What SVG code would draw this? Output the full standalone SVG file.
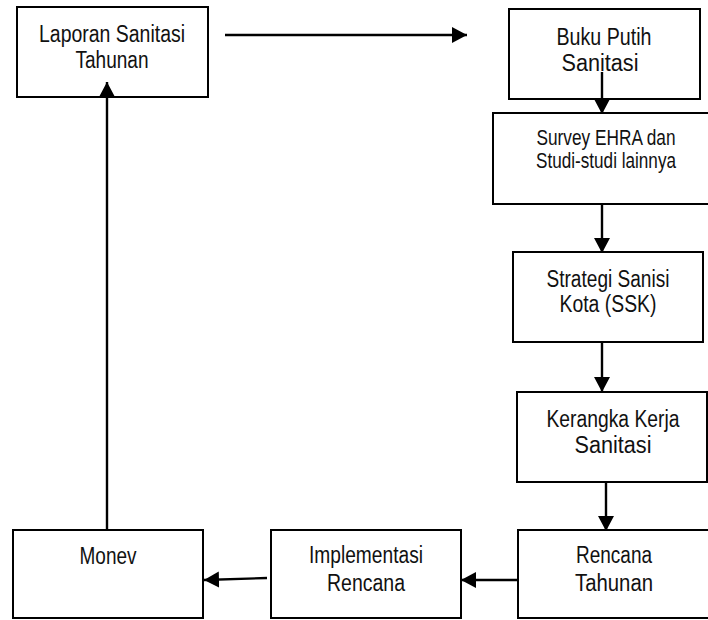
<svg xmlns="http://www.w3.org/2000/svg" width="708" height="620" viewBox="0 0 708 620">
  <style>
    .box { fill: #ffffff; stroke: #000000; stroke-width: 2; }
    .lbl { font-family: "Liberation Sans", Arial, sans-serif; font-size: 23px; fill: #111111; text-anchor: middle; }
    .sm { font-size: 22px; }
    .edge { stroke: #000000; stroke-width: 2.4; fill: none; marker-end: url(#head); }
  </style>
  <defs>
    <marker id="head" markerUnits="userSpaceOnUse" markerWidth="17" markerHeight="17" refX="15" refY="8" orient="auto">
      <path d="M0,0 L15,8 L0,16 z" fill="#000000"/>
    </marker>
  </defs>
  <rect width="708" height="620" fill="#ffffff"/>

  <!-- labels use a condensed look: widths fixed via textLength -->
  <g id="laporan">
    <rect class="box" x="17" y="7" width="191" height="90"/>
    <text class="lbl" x="112" y="42" textLength="146" lengthAdjust="spacingAndGlyphs">Laporan Sanitasi</text>
    <text class="lbl" x="112" y="68" textLength="73" lengthAdjust="spacingAndGlyphs">Tahunan</text>
  </g>
  <g id="buku-putih">
    <rect class="box" x="509" y="9" width="191" height="90"/>
    <text class="lbl" x="604" y="45" textLength="95" lengthAdjust="spacingAndGlyphs">Buku Putih</text>
    <text class="lbl" x="600" y="71" textLength="77" lengthAdjust="spacingAndGlyphs">Sanitasi</text>
  </g>
  <g id="survey">
    <rect class="box" x="493" y="113" width="220" height="91"/>
    <text class="lbl sm" x="606" y="145" textLength="139" lengthAdjust="spacingAndGlyphs">Survey EHRA dan</text>
    <text class="lbl sm" x="606" y="168" textLength="140" lengthAdjust="spacingAndGlyphs">Studi-studi lainnya</text>
  </g>
  <g id="ssk">
    <rect class="box" x="513" y="252" width="190" height="90"/>
    <text class="lbl" x="608" y="287" textLength="123" lengthAdjust="spacingAndGlyphs">Strategi Sanisi</text>
    <text class="lbl" x="608" y="312" textLength="97" lengthAdjust="spacingAndGlyphs">Kota (SSK)</text>
  </g>
  <g id="kerangka">
    <rect class="box" x="517" y="392" width="190" height="90"/>
    <text class="lbl" x="613" y="427" textLength="133" lengthAdjust="spacingAndGlyphs">Kerangka Kerja</text>
    <text class="lbl" x="613" y="453" textLength="77" lengthAdjust="spacingAndGlyphs">Sanitasi</text>
  </g>
  <g id="rencana-tahunan">
    <rect class="box" x="518" y="530" width="195" height="88"/>
    <text class="lbl" x="614" y="563" textLength="76" lengthAdjust="spacingAndGlyphs">Rencana</text>
    <text class="lbl" x="614" y="591" textLength="78" lengthAdjust="spacingAndGlyphs">Tahunan</text>
  </g>
  <g id="implementasi">
    <rect class="box" x="271" y="530" width="190" height="88"/>
    <text class="lbl" x="366" y="563" textLength="114" lengthAdjust="spacingAndGlyphs">Implementasi</text>
    <text class="lbl" x="366" y="591" textLength="78" lengthAdjust="spacingAndGlyphs">Rencana</text>
  </g>
  <g id="monev">
    <rect class="box" x="13" y="530" width="190" height="88"/>
    <text class="lbl" x="108" y="564" textLength="57" lengthAdjust="spacingAndGlyphs">Monev</text>
  </g>

  <g id="connectors">
    <line class="edge" x1="225" y1="35" x2="467" y2="35"/>
    <line class="edge" x1="602" y1="72" x2="602" y2="114"/>
    <line class="edge" x1="602" y1="204" x2="602" y2="253"/>
    <line class="edge" x1="602" y1="342" x2="602" y2="392"/>
    <line class="edge" x1="606" y1="482" x2="606" y2="531"/>
    <line class="edge" x1="518" y1="580" x2="461" y2="580"/>
    <line class="edge" x1="267" y1="578" x2="204" y2="580"/>
    <line class="edge" x1="107" y1="530" x2="107" y2="82"/>
  </g>
</svg>
